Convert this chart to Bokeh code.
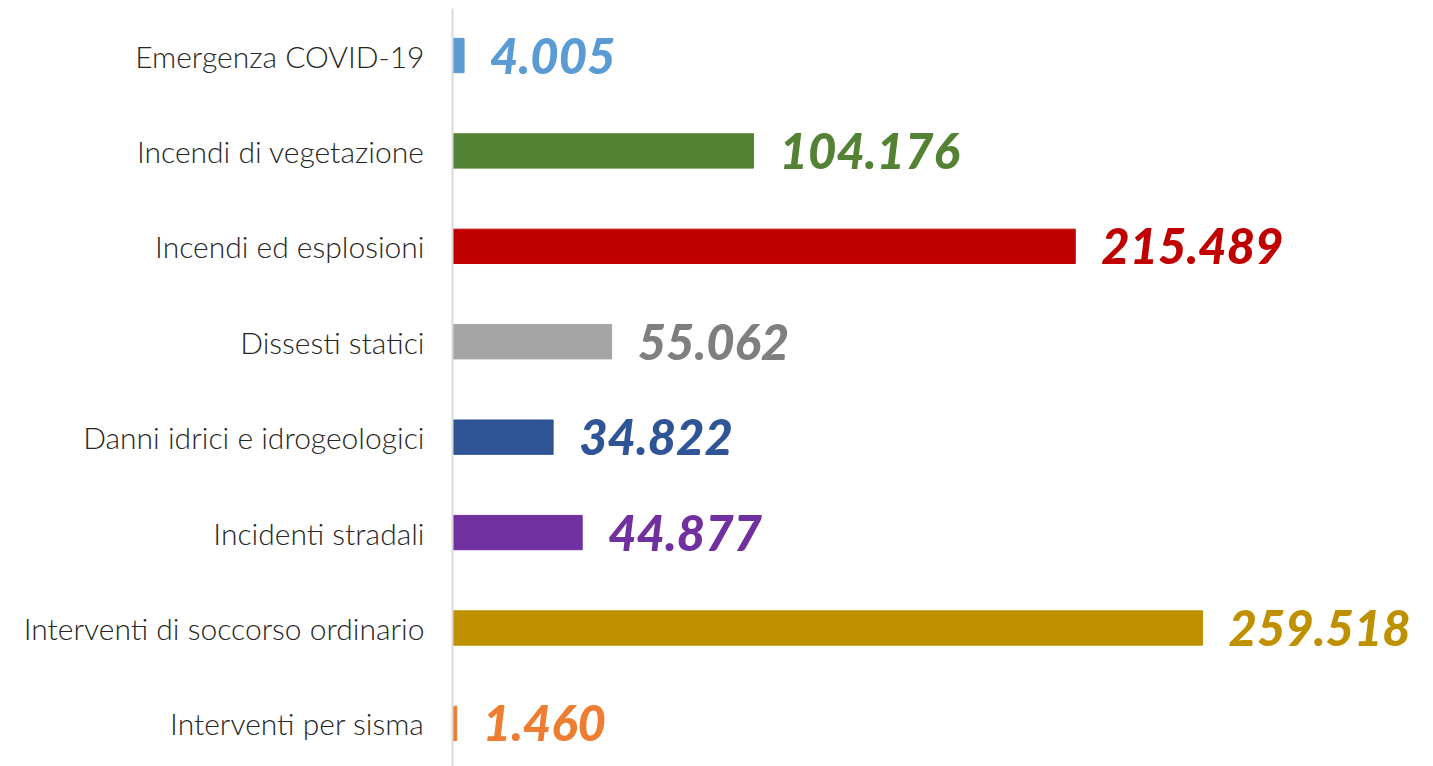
from bokeh.plotting import figure
from bokeh.models import ColumnDataSource, Range1d, FixedTicker, LabelSet
from bokeh.core.properties import value
from bokeh.embed import file_html
from bokeh.resources import INLINE

categories = ["Emergenza COVID-19", "Incendi di vegetazione", "Incendi ed esplosioni",
              "Dissesti statici", "Danni idrici e idrogeologici", "Incidenti stradali",
              "Interventi di soccorso ordinario", "Interventi per sisma"]
values = [4005, 104176, 215489, 55062, 34822, 44877, 259518, 1460]
value_labels = ["4.005", "104.176", "215.489", "55.062", "34.822", "44.877", "259.518", "1.460"]
bar_colors = ["#5B9BD5", "#548235", "#C00000", "#A5A5A5", "#2F5597", "#7030A0", "#BF9000", "#ED7D31"]
label_colors = ["#5B9BD5", "#548235", "#C00000", "#7F7F7F", "#2F5597", "#7030A0", "#BF9000", "#ED7D31"]

n = len(categories)
ypos = [n - 1 - i for i in range(n)]

src = ColumnDataSource(dict(y=ypos, v=values, lab=value_labels, bc=bar_colors, lc=label_colors))

p = figure(width=1433, height=766, output_backend="svg", toolbar_location=None,
           x_range=Range1d(0, 339450), y_range=Range1d(-0.452, 7.493),
           min_border_left=452, min_border_top=8, min_border_bottom=0, min_border_right=0)
p.outline_line_color = None
p.xgrid.visible = False
p.ygrid.visible = False
p.xaxis.visible = False
p.background_fill_color = "white"
p.border_fill_color = "white"

p.hbar(y="y", right="v", left=0, height=0.36, color="bc", source=src)

labels = LabelSet(x="v", y="y", text="lab", source=src, x_offset=26, y_offset=0,
                  text_color="lc", text_font=value("Lato Black"), text_font_style=value("italic"),
                  text_font_size=value("49px"), text_baseline=value("middle"), text_align=value("left"))
p.add_layout(labels)

ya = p.yaxis[0]
ya.ticker = FixedTicker(ticks=ypos)
ya.major_label_overrides = {y: c for y, c in zip(ypos, categories)}
ya.major_tick_line_color = None
ya.minor_tick_line_color = None
ya.major_tick_out = 0
ya.major_label_standoff = 28
ya.axis_line_color = "#D9D9D9"
ya.axis_line_width = 2
ya.major_label_text_font = "Lato Light"
ya.major_label_text_font_style = "normal"
ya.major_label_text_font_size = "30px"
ya.major_label_text_color = "#262626"

open("out.html", "w").write(file_html(p, INLINE))
